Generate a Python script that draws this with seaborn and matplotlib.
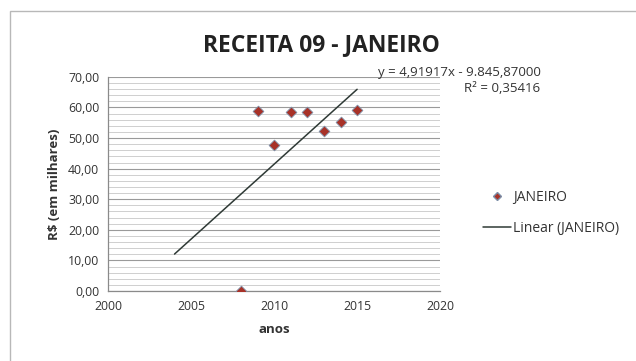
import numpy as np
import pandas as pd
import seaborn as sns
import matplotlib
matplotlib.use("Agg")
import matplotlib.pyplot as plt
from matplotlib.ticker import FuncFormatter, MultipleLocator
from matplotlib.lines import Line2D
from matplotlib.patches import Rectangle

anos = [2008, 2009, 2010, 2011, 2012, 2013, 2014, 2015]
receita = [0.0, 58.7, 47.7, 58.6, 58.6, 52.3, 55.2, 59.3]
trend_start = 2004
equation_text = "y = 4,91917x - 9.845,87000"
r2_text = "R² = 0,35416"
title = "RECEITA 09 - JANEIRO"
series_name = "JANEIRO"

df = pd.DataFrame({"anos": anos, "receita": receita})

sns.set_theme(style="white")
plt.rcParams['font.family'] = ['Open Sans', 'DejaVu Sans']

fig = plt.figure(figsize=(6.36, 3.61), dpi=100)
fig.patch.set_facecolor("white")
fig.add_artist(Rectangle((0.016, -0.02), 1.0, 0.99, transform=fig.transFigure,
                         fill=False, edgecolor="#b8b8b8", linewidth=1.0))

ax = fig.add_axes([0.170, 0.194, 0.522, 0.593])

# trendline
coef = np.polyfit(df["anos"], df["receita"], 1)
xs = np.array([trend_start, max(anos)])
ax.plot(xs, np.polyval(coef, xs), color="#2f3a36", linewidth=1.1, zorder=2)

sns.scatterplot(data=df, x="anos", y="receita", ax=ax, marker="D", s=30,
                color="#a83228", edgecolor="#7d8fa8", linewidth=0.6, zorder=3, legend=False)

ax.set_xlim(2000, 2020)
ax.set_ylim(0, 70)
ax.xaxis.set_major_locator(MultipleLocator(5))
ax.yaxis.set_major_locator(MultipleLocator(10))
ax.yaxis.set_minor_locator(MultipleLocator(2))
ax.grid(which="major", axis="y", color="#9a9a9a", linewidth=0.8)
ax.grid(which="minor", axis="y", color="#c8c8c8", linewidth=0.6)
ax.set_axisbelow(True)
ax.yaxis.set_major_formatter(FuncFormatter(lambda v, p: f"{v:.2f}".replace(".", ",")))
for s in ["top", "right"]:
    ax.spines[s].set_visible(False)
for s in ["left", "bottom"]:
    ax.spines[s].set_color("#8a8a8a")
    ax.spines[s].set_linewidth(0.9)
ax.tick_params(axis="both", which="major", direction="out", length=3, color="#8a8a8a",
               labelsize=8.8, labelcolor="#333333")
ax.tick_params(axis="y", which="minor", length=0)
ax.set_xlabel("anos", fontsize=9.5, fontweight="bold", color="#333333", labelpad=7)
ax.set_ylabel("R$ (em milhares)", fontsize=9.5, fontweight="bold", color="#333333", labelpad=5)

fig.text(0.505, 0.875, title, ha="center", va="center", fontsize=16.5, fontweight="bold", color="#222222")
fig.text(0.850, 0.800, equation_text, ha="right", va="center", fontsize=9.5, color="#333333")
fig.text(0.850, 0.755, r2_text, ha="right", va="center", fontsize=9.5, color="#333333")

handles = [Line2D([], [], marker="D", linestyle="none", markersize=4.5, color="#a83228",
                  markeredgecolor="#7d8fa8", label=series_name),
           Line2D([], [], color="#2f3a36", linewidth=1.1, label=f"Linear ({series_name})")]
fig.legend(handles=handles, loc="center left", bbox_to_anchor=(0.74, 0.41), frameon=False,
           fontsize=10, handlelength=2.0, handletextpad=0.15, labelspacing=1.1, labelcolor="#333333")

fig.savefig("out.png", dpi=100)
